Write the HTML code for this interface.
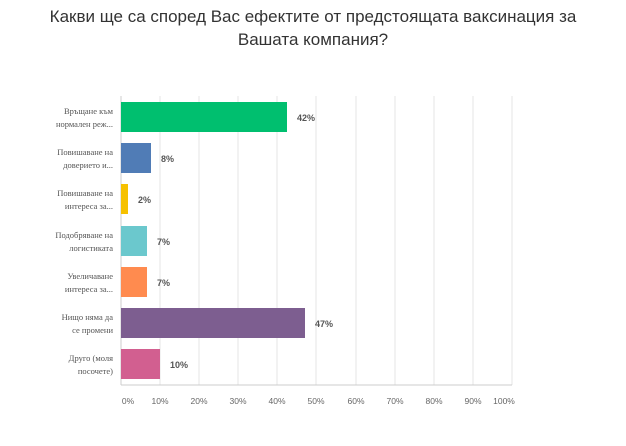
<!DOCTYPE html><html><head><meta charset="utf-8"><style>body{margin:0;background:#fff;width:626px;height:441px;overflow:hidden}</style></head><body>
<svg width="626" height="441" xmlns="http://www.w3.org/2000/svg" font-family="Liberation Sans, sans-serif">
<text x="313" y="22" font-size="17" text-anchor="middle" fill="#333">Какви ще са според Вас ефектите от предстоящата ваксинация за</text>
<text x="313" y="45" font-size="17" text-anchor="middle" fill="#333">Вашата компания?</text>
<g stroke="#e6e6e6" stroke-width="1">
<line x1="160" y1="96" x2="160" y2="385"/><line x1="199" y1="96" x2="199" y2="385"/><line x1="238" y1="96" x2="238" y2="385"/><line x1="277" y1="96" x2="277" y2="385"/><line x1="316" y1="96" x2="316" y2="385"/><line x1="356" y1="96" x2="356" y2="385"/><line x1="395" y1="96" x2="395" y2="385"/><line x1="434" y1="96" x2="434" y2="385"/><line x1="473" y1="96" x2="473" y2="385"/><line x1="512" y1="96" x2="512" y2="385"/>
</g>
<line x1="121" y1="96" x2="121" y2="385" stroke="#ccc"/>
<line x1="121" y1="385" x2="512" y2="385" stroke="#ccc"/>
<rect x="121" y="102" width="166" height="30" fill="#00bf6f"/>
<rect x="121" y="143" width="30" height="30" fill="#507cb6"/>
<rect x="121" y="184" width="7" height="30" fill="#f6c100"/>
<rect x="121" y="226" width="26" height="30" fill="#6bc8cd"/>
<rect x="121" y="267" width="26" height="30" fill="#ff8b4f"/>
<rect x="121" y="308" width="184" height="30" fill="#7d5e90"/>
<rect x="121" y="349" width="39" height="30" fill="#d25f90"/>
<g font-size="9" font-weight="bold" fill="#555">
<text x="297" y="121">42%</text><text x="161" y="162">8%</text><text x="138" y="203">2%</text><text x="157" y="245">7%</text><text x="157" y="286">7%</text><text x="315" y="327">47%</text><text x="170" y="368">10%</text>
</g>
<g font-size="8.5" fill="#555" text-anchor="end" font-family="Liberation Serif, serif">
<text x="113" y="114">Връщане към</text><text x="113" y="127">нормален реж...</text>
<text x="113" y="155">Повишаване на</text><text x="113" y="168">доверието и...</text>
<text x="113" y="196">Повишаване на</text><text x="113" y="209">интереса за...</text>
<text x="113" y="238">Подобряване на</text><text x="113" y="251">логистиката</text>
<text x="113" y="279">Увеличаване</text><text x="113" y="292">интереса за...</text>
<text x="113" y="320">Нищо няма да</text><text x="113" y="333">се промени</text>
<text x="113" y="361">Друго (моля</text><text x="113" y="374">посочете)</text>
</g>
<g font-size="8.5" fill="#666" text-anchor="middle">
<text x="128" y="404">0%</text><text x="160" y="404">10%</text><text x="199" y="404">20%</text><text x="238" y="404">30%</text><text x="277" y="404">40%</text><text x="316" y="404">50%</text><text x="356" y="404">60%</text><text x="395" y="404">70%</text><text x="434" y="404">80%</text><text x="473" y="404">90%</text><text x="504" y="404">100%</text>
</g>
</svg></body></html>
